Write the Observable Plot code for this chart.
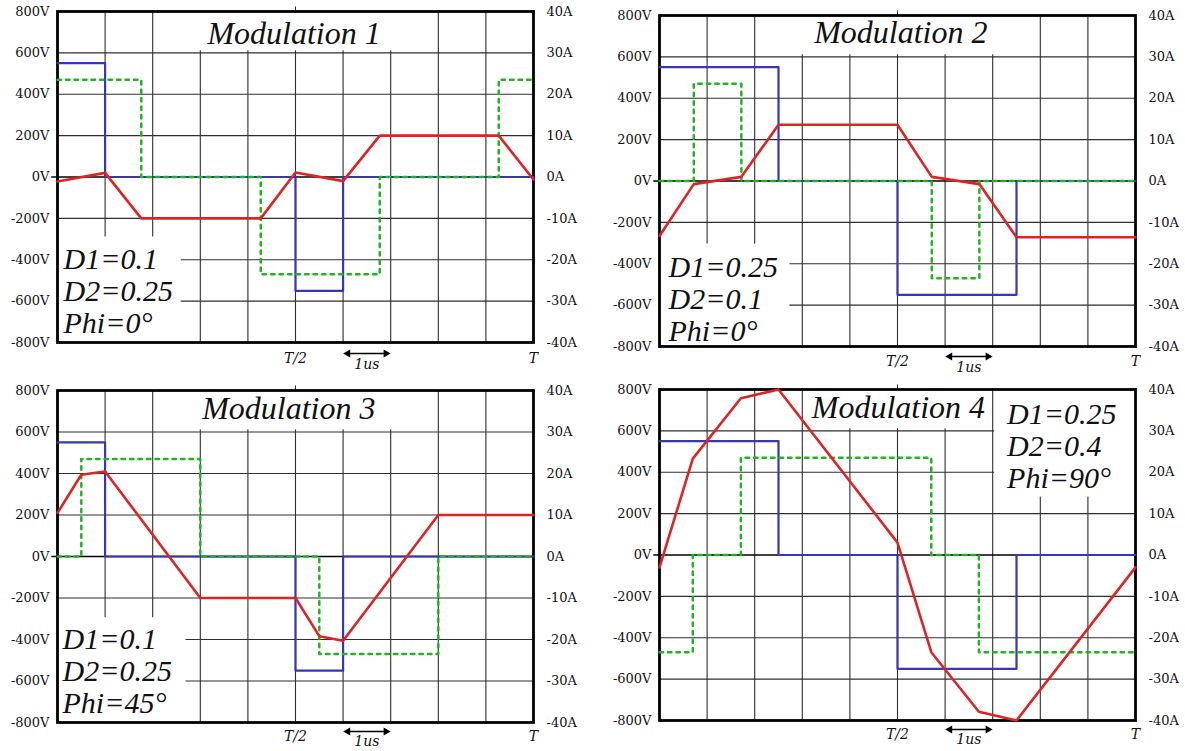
<!DOCTYPE html>
<html><head><meta charset="utf-8">
<script src="https://cdn.jsdelivr.net/npm/d3@7"></script>
<script src="https://cdn.jsdelivr.net/npm/@observablehq/plot@0.6"></script>
<style>
body{margin:0;background:#fff;}
#wrap{position:relative;width:1185px;height:751px;background:#fff;overflow:hidden;}
.panel{position:absolute;}
.panel svg{overflow:visible;}
</style></head><body><div id="wrap"></div>
<script>
// ---- shared axis data ----
const voltTicks = [-800, -600, -400, -200, 0, 200, 400, 600, 800];
const gridTimes = [1, 2, 3, 4, 5, 6, 7, 8, 9];          // µs (T = 10 µs)
const gridVolts = [-600, -400, -200, 200, 400, 600];
const voltsPerAmp = 20;                                 // 800V  <->  40A
const timeLabels = ["T/2", "T"];
const timeLabelPos = [5, 10];
const scaleLabel = "1us";

const titles = ["Modulation 1", "Modulation 2", "Modulation 3", "Modulation 4"];
const paramTexts = [
  "D1=0.1\nD2=0.25\nPhi=0°",
  "D1=0.25\nD2=0.1\nPhi=0°",
  "D1=0.1\nD2=0.25\nPhi=45°",
  "D1=0.25\nD2=0.4\nPhi=90°"
];

// ---- Modulation 1 ----
const m1BlueT  = [0, 1, 5, 6, 10];
const m1BlueV  = [550, 0, -550, 0, 0];
const m1GreenT = [0, 1.76, 4.27, 6.77, 9.27, 10];
const m1GreenV = [470, 0, -470, 0, 470, 470];
const m1RedT   = [0, 1, 1.76, 4.27, 5, 6, 6.77, 9.27, 10];
const m1RedA   = [-1.1, 1, -10, -10, 1.1, -1, 10, 10, -0.6];

// ---- Modulation 2 ----
const m2BlueT  = [0, 2.5, 5, 7.5, 10];
const m2BlueV  = [550, 0, -550, 0, 0];
const m2GreenT = [0, 0.72, 1.72, 5.72, 6.72, 10];
const m2GreenV = [0, 470, 0, -470, 0, 0];
const m2RedT   = [0, 0.72, 1.72, 2.5, 5, 5.72, 6.72, 7.5, 10];
const m2RedA   = [-13.3, -0.75, 1, 13.6, 13.6, 1, -0.75, -13.6, -13.6];

// ---- Modulation 3 ----
const m3BlueT  = [0, 1, 5, 6, 10];
const m3BlueV  = [550, 0, -550, 0, 0];
const m3GreenT = [0, 0.5, 3, 5.5, 8, 10];
const m3GreenV = [0, 470, 0, -470, 0, 0];
const m3RedT   = [0, 0.5, 1, 3, 5, 5.5, 6, 8, 10];
const m3RedA   = [10.5, 19.7, 20.5, -10, -10, -19.2, -20.3, 10, 10];

// ---- Modulation 4 ----
const m4BlueT  = [0, 2.5, 5, 7.5, 10];
const m4BlueV  = [550, 0, -550, 0, 0];
const m4GreenT = [0, 0.7, 1.71, 5.71, 6.71, 10];
const m4GreenV = [-470, 0, 470, 0, -470, -470];
const m4RedT   = [0, 0.7, 1.71, 2.5, 5, 5.71, 6.71, 7.5, 10];
const m4RedA   = [-3, 23.3, 37.9, 40, 3, -23.5, -37.9, -40, -3];

const BLUE = "#3737b3", GREEN = "#22b322", RED = "#dc2424", GRID = "#2e2e2e";
const SERIF = "'DejaVu Serif', serif";
const ITAL = "'Liberation Serif', 'Times New Roman', serif";

const panels = [
  {left:0, top:0, w:595, h:375, ml:57, mr:62, mt:11, mb:33,
   bT:m1BlueT, bV:m1BlueV, gT:m1GreenT, gV:m1GreenV, rT:m1RedT, rA:m1RedA,
   title:titles[0], titleX:4.97, titleDy:32, params:paramTexts[0],
   paramX:0, paramY:-800, paramDx:6, paramDy:-10, lab:[16, 11, 22],
   boxes:[{x1:2.95,x2:7.05,y1:610,y2:800},{x1:0,x2:2.6,y1:-800,y2:-290}]},
  {left:595, top:0, w:590, h:375, ml:64, mr:50, mt:15, mb:29,
   bT:m2BlueT, bV:m2BlueV, gT:m2GreenT, gV:m2GreenV, rT:m2RedT, rA:m2RedA,
   title:titles[1], titleX:5.07, titleDy:27, params:paramTexts[1],
   paramX:0, paramY:-800, paramDx:9, paramDy:-6, lab:[15, 10, 21],
   boxes:[{x1:2.95,x2:7.05,y1:610,y2:800},{x1:0,x2:2.74,y1:-800,y2:-305}]},
  {left:0, top:375, w:595, h:376, ml:57, mr:62, mt:15, mb:29,
   bT:m3BlueT, bV:m3BlueV, gT:m3GreenT, gV:m3GreenV, rT:m3RedT, rA:m3RedA,
   title:titles[2], titleX:4.86, titleDy:28, params:paramTexts[2],
   paramX:0, paramY:-800, paramDx:5, paramDy:-10, lab:[14, 9, 19],
   boxes:[{x1:2.95,x2:7.05,y1:610,y2:800},{x1:0,x2:2.7,y1:-800,y2:-295}]},
  {left:595, top:375, w:590, h:376, ml:64, mr:50, mt:14, mb:31,
   bT:m4BlueT, bV:m4BlueV, gT:m4GreenT, gV:m4GreenV, rT:m4RedT, rA:m4RedA,
   title:titles[3], titleX:5.02, titleDy:28, params:paramTexts[3],
   paramX:7.05, paramY:800, paramDx:12, paramDy:98, lab:[14, 9, 19],
   boxes:[{x1:3.04,x2:6.96,y1:610,y2:800},{x1:7.04,x2:10,y1:280,y2:800}]}
];

function makePanel(c) {
  const blue = c.bT.map((t, i) => ({t, v: c.bV[i]}));
  const green = c.gT.map((t, i) => ({t, v: c.gV[i]}));
  const red = c.rT.map((t, i) => ({t, v: c.rA[i] * voltsPerAmp}));
  const xLabs = timeLabels.map((s, i) => ({t: timeLabelPos[i], s}));
  const [labDy, arrowDy, usDy] = c.lab;
  return Plot.plot({
    width: c.w, height: c.h,
    marginLeft: c.ml, marginRight: c.mr, marginTop: c.mt, marginBottom: c.mb,
    x: {domain: [0, 10], axis: null},
    y: {domain: [-800, 800], axis: null},
    style: {background: "white", fontFamily: SERIF, fontSize: "13px", color: "#111"},
    marks: [
      Plot.ruleX(gridTimes, {stroke: GRID, strokeWidth: 1.1}),
      Plot.ruleY(gridVolts, {stroke: GRID, strokeWidth: 1.1}),
      Plot.ruleX([{x: 5, y1: 800, y2: 822}], {x: "x", y1: "y1", y2: "y2", stroke: GRID, strokeWidth: 1}),
      Plot.rect(c.boxes, {x1: "x1", x2: "x2", y1: "y1", y2: "y2", fill: "white"}),
      Plot.ruleY([{y: 0, x1: -0.12, x2: 10}], {y: "y", x1: "x1", x2: "x2", stroke: "black", strokeWidth: 1.7}),
      Plot.frame({stroke: "black", strokeWidth: 2.8}),
      Plot.axisY(voltTicks, {anchor: "left", tickSize: 0, tickPadding: 8, tickFormat: d => `${d}V`,
        fontSize: 13, fontFamily: SERIF, color: "#111"}),
      Plot.axisY(voltTicks, {anchor: "right", tickSize: 0, tickPadding: 13, tickFormat: d => `${d / voltsPerAmp}A`,
        fontSize: 13, fontFamily: SERIF, color: "#111"}),
      Plot.line(blue, {x: "t", y: "v", curve: "step-after", stroke: BLUE, strokeWidth: 2.2}),
      Plot.line(green, {x: "t", y: "v", curve: "step-after", stroke: GREEN, strokeWidth: 2.5, strokeDasharray: "3.5,5"}),
      Plot.line(red, {x: "t", y: "v", stroke: RED, strokeWidth: 2.6}),
      Plot.text([c.title], {x: c.titleX, y: 800, dy: c.titleDy, text: d => d, lineAnchor: "bottom",
        fontSize: 32, fontFamily: ITAL, fontStyle: "italic", fill: "#111"}),
      Plot.text([c.params], {x: c.paramX, y: c.paramY, dx: c.paramDx, dy: c.paramDy, text: d => d,
        textAnchor: "start", lineAnchor: "bottom", lineHeight: 1.06,
        fontSize: 30, fontFamily: ITAL, fontStyle: "italic", fill: "#111"}),
      Plot.text(xLabs, {x: "t", y: -800, dy: labDy, text: "s", fontSize: 14,
        fontFamily: SERIF, fontStyle: "italic", fill: "#111"}),
      Plot.link([{x1: 6.08, x2: 6.92, y: -800}], {x1: "x1", x2: "x2", y1: "y", y2: "y", dy: arrowDy,
        stroke: "black", strokeWidth: 1.5}),
      Plot.dot([{x: 6.1, a: -90}, {x: 6.9, a: 90}], {x: "x", y: -800, dy: arrowDy, symbol: "triangle",
        rotate: "a", r: 3, fill: "black", stroke: "none"}),
      Plot.text([scaleLabel], {x: 6.5, y: -800, dy: usDy, text: d => d, fontSize: 14,
        fontFamily: SERIF, fontStyle: "italic", fill: "#111"})
    ]
  });
}

const wrap = document.getElementById("wrap");
for (const c of panels) {
  const div = document.createElement("div");
  div.className = "panel";
  div.style.left = c.left + "px";
  div.style.top = c.top + "px";
  div.appendChild(makePanel(c));
  wrap.appendChild(div);
}
</script></body></html>
